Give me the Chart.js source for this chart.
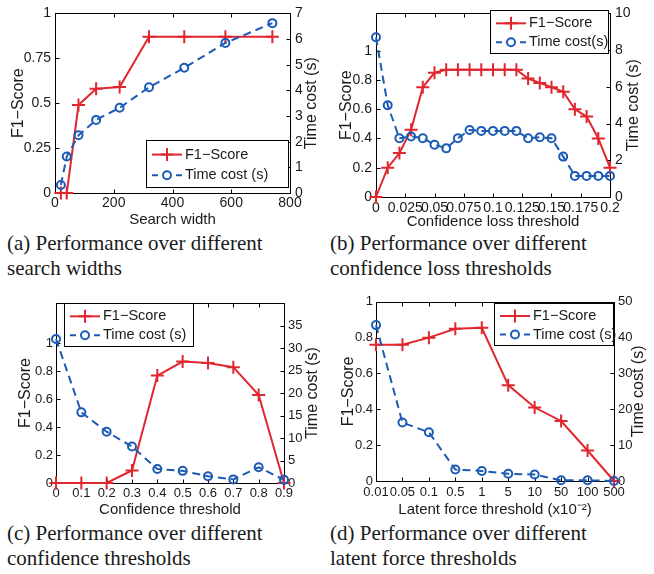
<!DOCTYPE html>
<html>
<head>
<meta charset="utf-8">
<script src="https://cdn.jsdelivr.net/npm/chart.js@4.4.0/dist/chart.umd.min.js"></script>
<style>
  body { margin: 0; width: 654px; height: 574px; background: #fff; position: relative; overflow: hidden; }
  canvas { position: absolute; }
  .cap { position: absolute; font-family: "Liberation Serif", serif; font-size: 21px; line-height: 25px; color: #1a1a1a; white-space: nowrap; }
</style>
</head>
<body>
<canvas id="chartA" width="327" height="231" style="left:0;top:0"></canvas>
<canvas id="chartB" width="327" height="231" style="left:327px;top:0"></canvas>
<canvas id="chartC" width="327" height="231" style="left:0;top:290px"></canvas>
<canvas id="chartD" width="327" height="231" style="left:327px;top:290px"></canvas>

<div class="cap" style="left:7px;top:231px">(a) Performance over different<br>search widths</div>
<div class="cap" style="left:330px;top:231px">(b) Performance over different<br>confidence loss thresholds</div>
<div class="cap" style="left:7px;top:521px">(c) Performance over different<br>confidence thresholds</div>
<div class="cap" style="left:330px;top:521px">(d) Performance over different<br>latent force thresholds</div>

<script>
// === DATI ===

// (a) search width
const widthX    = [20, 40, 80, 140, 220, 320, 440, 580, 740];
const widthF1   = [0, 0, 0.49, 0.58, 0.59, 0.87, 0.87, 0.87, 0.87];
const widthTime = [0.31, 1.42, 2.25, 2.85, 3.32, 4.12, 4.88, 5.85, 6.62];
const widthXTicks    = [0, 200, 400, 600, 800];
const widthF1Ticks   = [0, 0.25, 0.5, 0.75, 1];
const widthTimeTicks = [0, 1, 2, 3, 4, 5, 6, 7];

// (b) confidence loss threshold
const lossX    = [0, 0.01, 0.02, 0.03, 0.04, 0.05, 0.06, 0.07, 0.08, 0.09, 0.1,
                  0.11, 0.12, 0.13, 0.14, 0.15, 0.16, 0.17, 0.18, 0.19, 0.2];
const lossF1   = [0, 0.2, 0.3, 0.46, 0.75, 0.85, 0.87, 0.87, 0.87, 0.87, 0.87,
                  0.87, 0.87, 0.81, 0.78, 0.75, 0.72, 0.6, 0.55, 0.4, 0.2];
const lossTime = [8.7, 5.0, 3.2, 3.3, 3.2, 2.85, 2.65, 3.2, 3.65, 3.6, 3.6,
                  3.6, 3.6, 3.2, 3.25, 3.2, 2.2, 1.15, 1.15, 1.15, 1.15];
const lossXTicks    = [0, 0.025, 0.05, 0.075, 0.1, 0.125, 0.15, 0.175, 0.2];
const lossF1Ticks   = [0, 0.2, 0.4, 0.6, 0.8, 1];
const lossTimeTicks = [0, 2, 4, 6, 8, 10];

// (c) confidence threshold
const confX    = [0, 0.1, 0.2, 0.3, 0.4, 0.5, 0.6, 0.7, 0.8, 0.9];
const confF1   = [0, 0, 0, 0.09, 0.77, 0.87, 0.86, 0.83, 0.63, 0];
const confTime = [32, 15.7, 11.4, 8.1, 3.1, 2.7, 1.5, 0.8, 3.5, 0.7];
const confXTicks    = [0, 0.1, 0.2, 0.3, 0.4, 0.5, 0.6, 0.7, 0.8, 0.9];
const confF1Ticks   = [0, 0.2, 0.4, 0.6, 0.8, 1];
const confTimeTicks = [0, 5, 10, 15, 20, 25, 30, 35];

// (d) latent force threshold (x10^-2)
const forceLabels = ['0.01', '0.05', '0.1', '0.5', '1', '5', '10', '50', '100', '500'];
const forceF1     = [0.76, 0.76, 0.8, 0.85, 0.855, 0.535, 0.41, 0.335, 0.17, 0];
const forceTime   = [43.5, 16.3, 13.6, 3.2, 2.8, 2.0, 1.8, 0.2, 0.2, 0];
const forceF1Ticks   = [0, 0.2, 0.4, 0.6, 0.8, 1];
const forceTimeTicks = [0, 10, 20, 30, 40, 50];

// === STILI ===
const RED = '#e0262e';
const BLUE = '#1c5bb5';
const INK = '#1a1a1a';
const FONT = '"Liberation Sans", Arial, sans-serif';

// disegna un marker del legend
function drawMarker(ctx, style, x, y, r, color) {
  ctx.save();
  ctx.strokeStyle = color;
  ctx.lineWidth = 2;
  ctx.beginPath();
  if (style === 'cross') {
    ctx.moveTo(x - r, y); ctx.lineTo(x + r, y);
    ctx.moveTo(x, y - r); ctx.lineTo(x, y + r);
  } else {
    ctx.arc(x, y, r, 0, Math.PI * 2);
  }
  ctx.stroke();
  ctx.restore();
}

// === Box, tacche, titoli e legenda in stile MATLAB ===
const matlabBox = {
  id: 'matlabBox',
  beforeDatasetsDraw(chart, args, opts) {
    const { ctx, chartArea: a } = chart;
    const L = Math.round(a.left) + 0.5, R = Math.round(a.right) + 0.5;
    const T = Math.round(a.top) + 0.5, B = Math.round(a.bottom) + 0.5;
    const tl = 4;
    ctx.save();
    ctx.strokeStyle = '#000';
    ctx.lineWidth = 1;
    ctx.strokeRect(L, T, R - L, B - T);
    ctx.beginPath();
    const sx = chart.scales.x;
    sx.ticks.forEach((t, i) => {
      const px = Math.round(sx.getPixelForTick(i)) + 0.5;
      ctx.moveTo(px, B); ctx.lineTo(px, B - tl);
      ctx.moveTo(px, T); ctx.lineTo(px, T + tl);
    });
    const yl = chart.scales.yL;
    yl.ticks.forEach((t, i) => {
      const py = Math.round(yl.getPixelForTick(i)) + 0.5;
      ctx.moveTo(L, py); ctx.lineTo(L + tl, py);
    });
    const yr = chart.scales.yR;
    yr.ticks.forEach((t, i) => {
      const py = Math.round(yr.getPixelForTick(i)) + 0.5;
      ctx.moveTo(R, py); ctx.lineTo(R - tl, py);
    });
    ctx.stroke();
    ctx.restore();
  },
  afterDraw(chart, args, opts) {
    const { ctx, chartArea: a } = chart;
    const cx = (a.left + a.right) / 2, cy = (a.top + a.bottom) / 2;
    ctx.save();
    ctx.fillStyle = INK;
    ctx.textAlign = 'center';
    ctx.textBaseline = 'middle';
    ctx.font = '15px ' + FONT;
    ctx.fillText(opts.xTitle, cx, opts.xTitleY);
    ctx.font = '16px ' + FONT;
    [[opts.leftTitle, opts.leftTitleX], [opts.rightTitle, opts.rightTitleX]].forEach(([txt, x]) => {
      ctx.save();
      ctx.translate(x, cy);
      ctx.rotate(-Math.PI / 2);
      ctx.fillText(txt, 0, 0);
      ctx.restore();
    });

    // legenda
    const lg = opts.legend;
    ctx.fillStyle = '#fff';
    ctx.fillRect(lg.x, lg.y, lg.w, lg.h);
    ctx.strokeStyle = '#000';
    ctx.lineWidth = 1;
    ctx.strokeRect(lg.x + 0.5, lg.y + 0.5, lg.w, lg.h);
    ctx.font = '14.5px ' + FONT;
    ctx.textAlign = 'left';
    chart.data.datasets.slice().reverse().forEach((ds, i) => {
      const ry = lg.y + lg.h * (i === 0 ? 0.31 : 0.75);
      const x0 = lg.x + 6, x1 = lg.x + 36;
      ctx.save();
      ctx.strokeStyle = ds.borderColor;
      ctx.lineWidth = 2;
      ctx.beginPath();
      if (ds.borderDash) {
        ctx.moveTo(x0, ry); ctx.lineTo(x0 + 6, ry);
        ctx.moveTo(x1 - 6, ry); ctx.lineTo(x1, ry);
      } else {
        ctx.moveTo(x0, ry); ctx.lineTo(x1, ry);
      }
      ctx.stroke();
      ctx.restore();
      drawMarker(ctx, ds.pointStyle, (x0 + x1) / 2, ry, ds.pointRadius, ds.borderColor);
      ctx.fillStyle = INK;
      ctx.fillText(ds.label, lg.x + 39, ry);
    });
    ctx.restore();
  }
};

function buildPanel(id, p) {
  const isCat = !!p.xLabels;
  const pair = (xs, ys) => xs.map((x, i) => ({ x: x, y: ys[i] }));
  const setTicks = arr => scale => { scale.ticks = arr.map(v => ({ value: v })); };
  const tickFont = { family: FONT, size: p.tickSize };
  const noGrid = { display: false, drawTicks: false, offset: false };

  const xScale = isCat ? {
    type: 'category', labels: p.xLabels, offset: false,
    grid: noGrid, border: { display: false },
    ticks: { font: tickFont, color: INK, padding: p.xPad, autoSkip: false, maxRotation: 0 }
  } : {
    type: 'linear', min: p.xMin, max: p.xMax,
    afterBuildTicks: setTicks(p.xTicks),
    grid: noGrid, border: { display: false },
    ticks: { font: tickFont, color: INK, padding: p.xPad, autoSkip: false, maxRotation: 0, callback: v => String(v) }
  };
  xScale.afterFit = s => { s.height = p.bottomH; };

  new Chart(document.getElementById(id), {
    type: 'line',
    data: {
      labels: isCat ? p.xLabels : undefined,
      datasets: [
        {
          label: p.timeLabel,
          data: isCat ? p.time : pair(p.x, p.time),
          yAxisID: 'yR', order: 0,
          borderColor: BLUE, borderWidth: 2, borderDash: [8, 5],
          pointStyle: 'circle', pointRadius: 4, pointBorderWidth: 2,
          pointBorderColor: BLUE, pointBackgroundColor: 'rgba(0,0,0,0)',
          tension: 0, clip: false
        },
        {
          label: 'F1\u2212Score',
          data: isCat ? p.f1 : pair(p.x, p.f1),
          yAxisID: 'yL', order: 1,
          borderColor: RED, borderWidth: 2,
          pointStyle: 'cross', pointRadius: 6.5, pointBorderWidth: 2,
          pointBorderColor: RED,
          tension: 0, clip: false
        }
      ]
    },
    options: {
      responsive: false,
      animation: false,
      layout: { padding: { top: p.topPad, left: 0, right: 0, bottom: 0 }, autoPadding: false },
      plugins: {
        legend: { display: false },
        tooltip: { enabled: false },
        matlabBox: {
          xTitle: p.xTitle, xTitleY: p.xTitleY,
          leftTitle: 'F1\u2212Score', leftTitleX: p.leftTitleX,
          rightTitle: 'Time cost (s)', rightTitleX: p.rightTitleX,
          legend: p.legend
        }
      },
      scales: {
        x: xScale,
        yL: {
          type: 'linear', position: 'left', min: 0, max: p.f1Max,
          afterBuildTicks: setTicks(p.f1Ticks),
          afterFit: s => { s.width = p.leftW; },
          grid: noGrid, border: { display: false },
          ticks: { font: tickFont, color: INK, padding: p.yPad, callback: v => String(v) }
        },
        yR: {
          type: 'linear', position: 'right', min: 0, max: p.timeMax,
          afterBuildTicks: setTicks(p.timeTicks),
          afterFit: s => { s.width = p.rightW; },
          grid: noGrid, border: { display: false },
          ticks: { font: tickFont, color: INK, padding: p.yPad + 1, callback: v => String(v) }
        }
      }
    },
    plugins: [matlabBox]
  });
}

buildPanel('chartA', {
  x: widthX, f1: widthF1, time: widthTime,
  xMin: 0, xMax: 800, xTicks: widthXTicks,
  f1Max: 1, f1Ticks: widthF1Ticks, timeMax: 7, timeTicks: widthTimeTicks,
  timeLabel: 'Time cost (s)', xTitle: 'Search width',
  tickSize: 14, yPad: 4,
  leftW: 55, rightW: 37, topPad: 10, bottomH: 38, xPad: 2,
  xTitleY: 220, leftTitleX: 19, rightTitleX: 312,
  legend: { x: 146, y: 140, w: 142, h: 47 }
});

buildPanel('chartB', {
  x: lossX, f1: lossF1, time: lossTime,
  xMin: 0, xMax: 0.2, xTicks: lossXTicks,
  f1Max: 1.255, f1Ticks: lossF1Ticks, timeMax: 10, timeTicks: lossTimeTicks,
  timeLabel: 'Time cost(s)', xTitle: 'Confidence loss threshold',
  tickSize: 14, yPad: 4,
  leftW: 49, rightW: 44, topPad: 10, bottomH: 34, xPad: 3,
  xTitleY: 222, leftTitleX: 20, rightTitleX: 307,
  legend: { x: 163, y: 10, w: 118, h: 43 }
});

buildPanel('chartC', {
  x: confX, f1: confF1, time: confTime,
  xMin: 0, xMax: 0.9, xTicks: confXTicks,
  f1Max: 1.29, f1Ticks: confF1Ticks, timeMax: 40, timeTicks: confTimeTicks,
  timeLabel: 'Time cost (s)', xTitle: 'Confidence threshold',
  tickSize: 13, yPad: 3,
  leftW: 56, rightW: 43, topPad: 13, bottomH: 38, xPad: 3,
  xTitleY: 220, leftTitleX: 26, rightTitleX: 313,
  legend: { x: 64, y: 13, w: 129, h: 43 }
});

buildPanel('chartD', {
  xLabels: forceLabels, f1: forceF1, time: forceTime,
  f1Max: 1, f1Ticks: forceF1Ticks, timeMax: 50, timeTicks: forceTimeTicks,
  timeLabel: 'Time cost (s)', xTitle: 'Latent force threshold (x10\u207B\u00B2)',
  tickSize: 13, yPad: 3,
  leftW: 49, rightW: 40, topPad: 10, bottomH: 40, xPad: 4,
  xTitleY: 220, leftTitleX: 22, rightTitleX: 312,
  legend: { x: 167, y: 13, w: 119, h: 42 }
});
</script>
</body>
</html>
